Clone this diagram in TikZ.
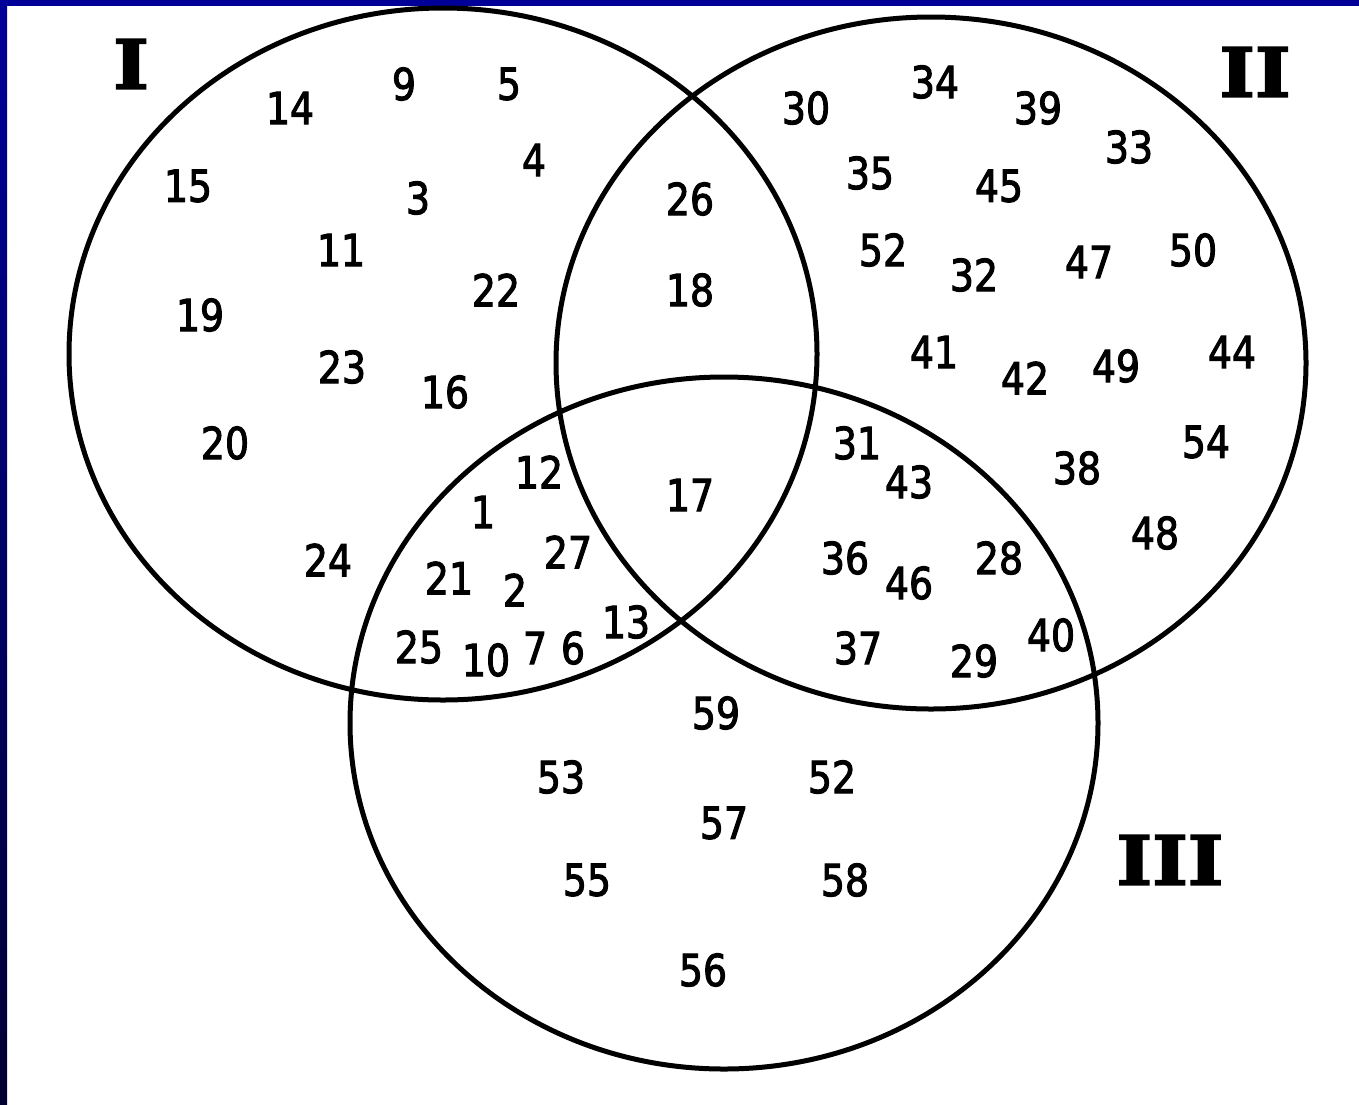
\documentclass[tikz,border=0pt]{standalone}
\usepackage{fontspec}
\setmainfont{DejaVu Sans}
\newfontfamily\numfont[FakeBold=2.6]{DejaVu Sans}
\newfontfamily\romanfont[FakeBold=2.5]{DejaVu Serif Bold}
\definecolor{frameblue}{RGB}{0,0,153}
\definecolor{framedark}{RGB}{0,0,51}
\begin{document}
\begin{tikzpicture}[x=1pt,y=-1pt,
  num/.style={inner sep=0pt,font=\numfont\fontsize{44}{44}\selectfont,xscale=0.86},
  roman/.style={inner sep=0pt,font=\romanfont\fontsize{68}{68}\selectfont,xscale=1.12},
  venn/.style={line width=5pt,draw=black}]
\useasboundingbox (0,0) rectangle (1359,1104);
\fill[white] (0,0) rectangle (1359,1104);
\fill[frameblue] (0,0) rectangle (1359,6);
\shade[top color=frameblue,bottom color=framedark] (0,0) rectangle (7,1104);
% sets
\draw[venn] (443,354) ellipse [x radius=374,y radius=346];
\draw[venn] (931,363) ellipse [x radius=375,y radius=346];
\draw[venn] (724,723) ellipse [x radius=374,y radius=346];
% labels
\node[roman] (lI) at (131,64) {I};
\node[roman] (lII) at (1255,72) {II};
\node[roman] (lIII) at (1170,860) {III};
% I only
\node[num] (n14) at (290,108) {14};
\node[num] (n9) at (404,84) {9};
\node[num] (n5) at (509,84) {5};
\node[num] (n15) at (188,186) {15};
\node[num] (n4) at (534,160) {4};
\node[num] (n3) at (418,198) {3};
\node[num] (n11) at (341,250) {11};
\node[num] (n22) at (496,290) {22};
\node[num] (n19) at (200,315) {19};
\node[num] (n23) at (342,367) {23};
\node[num] (n16) at (445,392) {16};
\node[num] (n20) at (225,443) {20};
\node[num] (n24) at (328,560) {24};
% I and II
\node[num] (n26) at (690,199) {26};
\node[num] (n18) at (690,290) {18};
% all three
\node[num] (n17) at (690,495) {17};
% I and III
\node[num] (n12) at (539,472) {12};
\node[num] (n1) at (483,512) {1};
\node[num] (n27) at (568,552) {27};
\node[num] (n21) at (449,578) {21};
\node[num] (n2) at (515,590) {2};
\node[num] (n25) at (419,647) {25};
\node[num] (n10) at (486,660) {10};
\node[num] (n7) at (535,648) {7};
\node[num] (n6) at (573,648) {6};
\node[num] (n13) at (626,622) {13};
% II only
\node[num] (n30) at (806,108) {30};
\node[num] (n34) at (935,82) {34};
\node[num] (n39) at (1038,108) {39};
\node[num] (n33) at (1129,147) {33};
\node[num] (n35) at (870,173) {35};
\node[num] (n45) at (999,186) {45};
\node[num] (n52a) at (883,250) {52};
\node[num] (n32) at (974,275) {32};
\node[num] (n47) at (1089,262) {47};
\node[num] (n50) at (1193,250) {50};
\node[num] (n41) at (934,352) {41};
\node[num] (n42) at (1025,378) {42};
\node[num] (n49) at (1116,366) {49};
\node[num] (n44) at (1232,352) {44};
\node[num] (n38) at (1077,468) {38};
\node[num] (n54) at (1206,442) {54};
\node[num] (n48) at (1155,533) {48};
% II and III
\node[num] (n31) at (857,443) {31};
\node[num] (n43) at (909,482) {43};
\node[num] (n36) at (845,558) {36};
\node[num] (n46) at (909,583) {46};
\node[num] (n28) at (999,558) {28};
\node[num] (n37) at (858,648) {37};
\node[num] (n29) at (974,661) {29};
\node[num] (n40) at (1051,635) {40};
% III only
\node[num] (n59) at (716,713) {59};
\node[num] (n53) at (561,777) {53};
\node[num] (n52b) at (832,777) {52};
\node[num] (n57) at (724,823) {57};
\node[num] (n55) at (587,880) {55};
\node[num] (n58) at (845,880) {58};
\node[num] (n56) at (703,970) {56};
\end{tikzpicture}
\end{document}
